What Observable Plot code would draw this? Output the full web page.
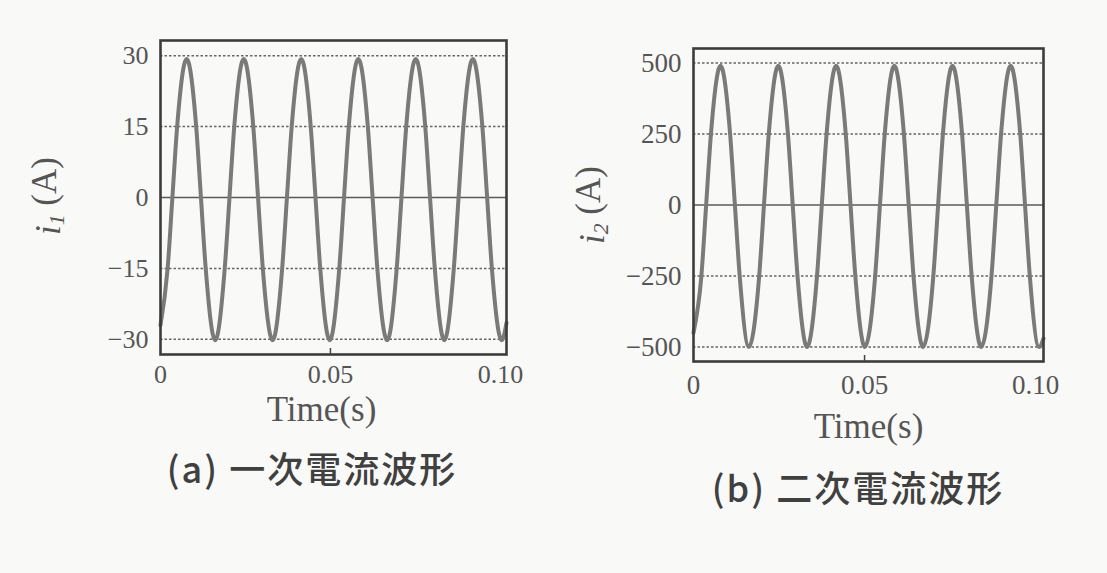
<!DOCTYPE html>
<html><head><meta charset="utf-8">
<script src="https://cdn.jsdelivr.net/npm/d3@7"></script>
<script src="https://cdn.jsdelivr.net/npm/@observablehq/plot@0.6"></script>
<style>
html,body{margin:0;padding:0;background:#f9f9f7;width:1107px;height:573px;overflow:hidden;}
.panel{position:absolute;}
.cap{position:absolute;font-family:"Noto Sans CJK JP";font-size:36px;font-weight:500;letter-spacing:2px;color:#404040;white-space:nowrap;transform:translate(-50%,-50%);}
</style></head><body>
<div id="a" class="panel" style="left:0px;top:0px"></div>
<div id="b" class="panel" style="left:540px;top:0px"></div>
<div id="capA" class="cap" style="left:312px;top:467px"></div>
<div id="capB" class="cap" style="left:858px;top:486px"></div>
<script>
// ---- data ----
const xTicks = [0, 0.05, 0.10];
const xTickLabels = ["0", "0.05", "0.10"];
const xLabel = "Time(s)";

const yTicks1 = [-30, -15, 0, 15, 30];
const yTicks2 = [-500, -250, 0, 250, 500];

const captions = ["(a) 一次電流波形", "(b) 二次電流波形"];

// (a) primary current i1 (A)
const time1 = [0,
  0.0021, 0.0035, 0.0049, 0.0077, 0.0105, 0.0119, 0.0133, 0.0161,
  0.0189, 0.0203, 0.0217, 0.0245, 0.0273, 0.0287, 0.0301, 0.0330,
  0.0358, 0.0372, 0.0386, 0.0414, 0.0442, 0.0456, 0.0470, 0.0498,
  0.0526, 0.0540, 0.0554, 0.0582, 0.0610, 0.0624, 0.0638, 0.0667,
  0.0695, 0.0709, 0.0723, 0.0751, 0.0779, 0.0793, 0.0807, 0.0835,
  0.0863, 0.0877, 0.0891, 0.0919, 0.0947, 0.0961, 0.0975, 0.1004,
  0.1018];
const current1 = [-27,
  -15, 0, 15, 29.3, 15, 0, -15, -30.2,
  -15, 0, 15, 29.3, 15, 0, -15, -30.2,
  -15, 0, 15, 29.3, 15, 0, -15, -30.2,
  -15, 0, 15, 29.3, 15, 0, -15, -30.2,
  -15, 0, 15, 29.3, 15, 0, -15, -30.2,
  -15, 0, 15, 29.3, 15, 0, -15, -30.2,
  -26.5];

// (b) secondary current i2 (A)
const time2 = [0,
  0.0023, 0.0037, 0.0051, 0.0079, 0.0107, 0.0121, 0.0135, 0.0162,
  0.0192, 0.0206, 0.0220, 0.0248, 0.0276, 0.0290, 0.0304, 0.0332,
  0.0361, 0.0375, 0.0389, 0.0417, 0.0445, 0.0459, 0.0473, 0.0501,
  0.0531, 0.0545, 0.0559, 0.0587, 0.0615, 0.0629, 0.0643, 0.0671,
  0.0701, 0.0715, 0.0729, 0.0757, 0.0785, 0.0799, 0.0813, 0.0841,
  0.0871, 0.0885, 0.0899, 0.0927, 0.0955, 0.0969, 0.0983, 0.1010,
  0.1023];
const current2 = [-450,
  -250, 0, 250, 490, 250, 0, -250, -500,
  -250, 0, 250, 490, 250, 0, -250, -500,
  -250, 0, 250, 490, 250, 0, -250, -500,
  -250, 0, 250, 490, 250, 0, -250, -500,
  -250, 0, 250, 490, 250, 0, -250, -500,
  -250, 0, 250, 490, 250, 0, -250, -500,
  -470];

// ---- drawing ----
function panel(cfg) {
  const data = cfg.time.map((t, i) => ({t, v: cfg.values[i]}));
  const fmt = d => xTickLabels[xTicks.indexOf(d)];
  const svg = Plot.plot({
    width: cfg.width, height: cfg.height,
    marginLeft: cfg.ml, marginRight: cfg.mr, marginTop: cfg.mt, marginBottom: cfg.mb,
    style: {background: "transparent", fontFamily: "'Liberation Serif', serif", color: "#555", overflow: "visible"},
    x: {domain: cfg.xDomain},
    y: {domain: cfg.yDomain},
    marks: [
      Plot.gridY(cfg.yTicks.filter(d => d !== 0), {stroke: "#666", strokeOpacity: 1, strokeWidth: 1.5, strokeDasharray: "2.5,2"}),
      Plot.ruleY([0], {stroke: "#5a5a5a", strokeWidth: 1.6}),
      Plot.line(data, {x: "t", y: "v", curve: "monotone-x", stroke: "#7a7a7a", strokeWidth: 4}),
      Plot.frame({stroke: "#3c3c3c", strokeWidth: 2.6}),
      Plot.axisX([0.05], {tickSize: -6, tickFormat: () => "", stroke: "#444", strokeWidth: 1.5, label: null}),
      Plot.axisX(xTicks, {tickSize: 0, tickPadding: cfg.xPad, tickFormat: fmt, fontSize: cfg.fs, label: xLabel, labelAnchor: "center", labelArrow: "none"}),
      Plot.axisY(cfg.yTicks, {tickSize: 0, tickPadding: 12, fontSize: cfg.fs, label: null})
    ]
  });
  // axis label font size and shift
  d3.select(svg).selectAll('g[aria-label="x-axis label"] text')
    .style("font-size", cfg.labelFs + "px")
    .attr("dx", cfg.labelDx);
  // y-axis title with italic symbol and subscript
  const lab = d3.select(svg).append("text")
    .attr("transform", `translate(${cfg.yLabX},${cfg.yLabY}) rotate(-90)`)
    .attr("text-anchor", "middle").attr("dominant-baseline", "middle")
    .attr("fill", "#555").style("font-family", "'Liberation Serif', serif").style("font-size", cfg.yLabFs + "px");
  lab.append("tspan").attr("font-style", "italic").text(cfg.sym);
  lab.append("tspan").attr("font-style", "italic").attr("font-size", "62%").attr("dy", "0.3em").text(cfg.sub);
  lab.append("tspan").attr("dy", "-0.3em").text(" (A)");
  return svg;
}

document.getElementById("a").append(panel({
  time: time1, values: current1, yTicks: yTicks1,
  width: 530, height: 423, ml: 160, mr: 24, mt: 40, mb: 69,
  xDomain: [0, 0.1018], yDomain: [-33.2, 33.2], xPad: 10, fs: 26, labelFs: 35, labelDx: -12,
  sym: "i", sub: "1", yLabX: 52, yLabY: 196, yLabFs: 35
}));
document.getElementById("b").append(panel({
  time: time2, values: current2, yTicks: yTicks2,
  width: 540, height: 440, ml: 153, mr: 37, mt: 48, mb: 79,
  xDomain: [0, 0.1023], yDomain: [-551, 551], xPad: 13, fs: 27, labelFs: 35, labelDx: 0,
  sym: "i", sub: "2", yLabX: 56, yLabY: 205, yLabFs: 35
}));
document.getElementById("capA").textContent = captions[0];
document.getElementById("capB").textContent = captions[1];
</script>
</body></html>
